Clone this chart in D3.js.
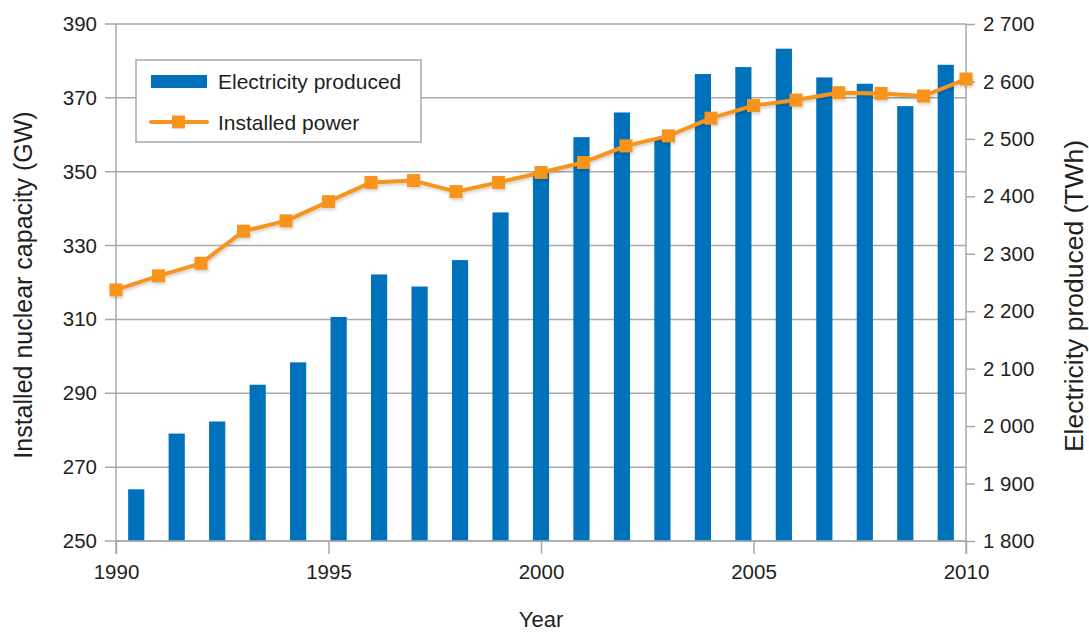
<!DOCTYPE html>
<html>
<head>
<meta charset="utf-8">
<script src="https://cdn.jsdelivr.net/npm/d3@7"></script>
<style>
  body { margin: 0; background: #fff; }
  svg { font-family: "Liberation Sans", Arial, Helvetica, sans-serif; }
  .tick text { fill: #231f20; font-size: 20.5px; }
  .axis path, .axis line { stroke: #a7a9ac; stroke-width: 1.5; }
  .grid line { stroke: #a7a9ac; stroke-width: 1.5; }
</style>
</head>
<body>
<svg width="1089" height="633"></svg>
<script>
// data
var years = [1990, 1991, 1992, 1993, 1994, 1995, 1996, 1997, 1998, 1999, 2000,
             2001, 2002, 2003, 2004, 2005, 2006, 2007, 2008, 2009, 2010];
var electricity = [1890, 1987, 2008, 2072, 2111, 2190, 2264, 2243, 2289, 2372, 2441,
                   2503, 2546, 2500, 2613, 2625, 2657, 2607, 2596, 2557, 2629];
var installed = [318, 321.8, 325.2, 333.9, 336.7, 341.9, 347.1, 347.6, 344.6, 347.1, 349.8,
                 352.5, 357, 359.7, 364.5, 367.9, 369.4, 371.4, 371.2, 370.5, 375.1];
var yearTicks = [1990, 1995, 2000, 2005, 2010];
var gwTicks = [250, 270, 290, 310, 330, 350, 370, 390];
var twhTicks = [1800, 1900, 2000, 2100, 2200, 2300, 2400, 2500, 2600, 2700];

var svg = d3.select("svg"),
    margin = {top: 24, right: 123, bottom: 92, left: 116},
    width = 1089 - margin.left - margin.right,
    height = 633 - margin.top - margin.bottom;

var barColor = "#0071bb",
    lineColor = "#f7941d",
    textColor = "#231f20";

var x = d3.scaleLinear().domain([1990, 2010]).range([0, width]);
var xb = d3.scaleBand().domain(years).range([0, width]).paddingInner(0.6).paddingOuter(0.3);
var yL = d3.scaleLinear().domain([250, 390]).range([height, 0]);
var yR = d3.scaleLinear().domain([1800, 2700]).range([height, 0]);

var defs = svg.append("defs");
var f = defs.append("filter").attr("id", "shadow").attr("x", "-10%").attr("y", "-10%")
  .attr("width", "120%").attr("height", "130%");
f.append("feDropShadow").attr("dx", 1).attr("dy", 2).attr("stdDeviation", 1.5)
  .attr("flood-color", "#000").attr("flood-opacity", 0.18);

var g = svg.append("g")
  .attr("transform", "translate(" + margin.left + "," + margin.top + ")");

// horizontal grid from left axis
g.append("g")
  .attr("class", "grid")
  .selectAll("line")
  .data(gwTicks)
  .enter().append("line")
  .attr("x1", -11).attr("x2", width)
  .attr("y1", function(d) { return yL(d); })
  .attr("y2", function(d) { return yL(d); });

// bars
g.append("g").selectAll("rect")
  .data(years)
  .enter().append("rect")
  .attr("x", function(d) { return xb(d); })
  .attr("width", xb.bandwidth())
  .attr("y", function(d, i) { return yR(electricity[i]); })
  .attr("height", function(d, i) { return height - yR(electricity[i]); })
  .attr("fill", barColor);

// left axis
var axL = g.append("g")
  .attr("class", "axis")
  .call(d3.axisLeft(yL).tickValues(gwTicks).tickSize(0).tickPadding(19));
axL.select(".domain").remove();
axL.append("line").attr("x1", 0).attr("x2", 0).attr("y1", 0).attr("y2", height + 13);

// right axis
var axR = g.append("g")
  .attr("class", "axis")
  .attr("transform", "translate(" + width + ",0)")
  .call(d3.axisRight(yR).tickValues(twhTicks).tickSize(9).tickPadding(8)
    .tickFormat(function(d) { return d3.format(",")(d).replace(",", " "); }));
axR.select(".domain").remove();
axR.append("line").attr("x1", 0).attr("x2", 0).attr("y1", 0).attr("y2", height + 13);

// bottom axis
var axB = g.append("g")
  .attr("class", "axis")
  .attr("transform", "translate(0," + height + ")")
  .call(d3.axisBottom(x).tickValues(yearTicks).tickSize(13).tickPadding(10).tickFormat(d3.format("d")));
axB.select(".domain").attr("d", "M0,0H" + width);

// line
var line = d3.line()
  .x(function(d) { return x(d); })
  .y(function(d, i) { return yL(installed[i]); });

var lg = g.append("g").attr("filter", "url(#shadow)");
lg.append("path")
  .datum(years)
  .attr("d", line)
  .attr("fill", "none")
  .attr("stroke", lineColor)
  .attr("stroke-width", 4)
  .attr("stroke-linejoin", "round");

lg.selectAll(".pt")
  .data(years)
  .enter().append("rect")
  .attr("class", "pt")
  .attr("x", function(d) { return x(d) - 6.5; })
  .attr("y", function(d, i) { return yL(installed[i]) - 6.5; })
  .attr("width", 13).attr("height", 13)
  .attr("fill", lineColor);

// axis titles
svg.append("text")
  .attr("transform", "translate(" + (margin.left + width / 2) + ",627)")
  .attr("text-anchor", "middle")
  .attr("fill", textColor)
  .style("font-size", "22px")
  .text("Year");

svg.append("text")
  .attr("transform", "translate(32,285) rotate(-90)")
  .attr("text-anchor", "middle")
  .attr("fill", textColor)
  .style("font-size", "25px")
  .text("Installed nuclear capacity (GW)");

svg.append("text")
  .attr("transform", "translate(1083,296) rotate(-90)")
  .attr("text-anchor", "middle")
  .attr("fill", textColor)
  .style("font-size", "26.5px")
  .text("Electricity produced (TWh)");

// legend
var leg = svg.append("g").attr("transform", "translate(136,60)");
leg.append("rect")
  .attr("width", 285).attr("height", 82)
  .attr("fill", "#fff")
  .attr("stroke", "#a7a9ac").attr("stroke-width", 1.5);
leg.append("rect")
  .attr("x", 15).attr("y", 15).attr("width", 56).attr("height", 13)
  .attr("fill", barColor);
leg.append("text")
  .attr("x", 82).attr("y", 29)
  .attr("fill", textColor).style("font-size", "21px")
  .text("Electricity produced");
leg.append("line")
  .attr("x1", 15).attr("x2", 71).attr("y1", 62).attr("y2", 62)
  .attr("stroke", lineColor).attr("stroke-width", 4).attr("stroke-linecap", "round");
leg.append("rect")
  .attr("x", 36).attr("y", 55.5).attr("width", 13).attr("height", 13)
  .attr("fill", lineColor);
leg.append("text")
  .attr("x", 82).attr("y", 70)
  .attr("fill", textColor).style("font-size", "21px")
  .text("Installed power");
</script>
</body>
</html>
